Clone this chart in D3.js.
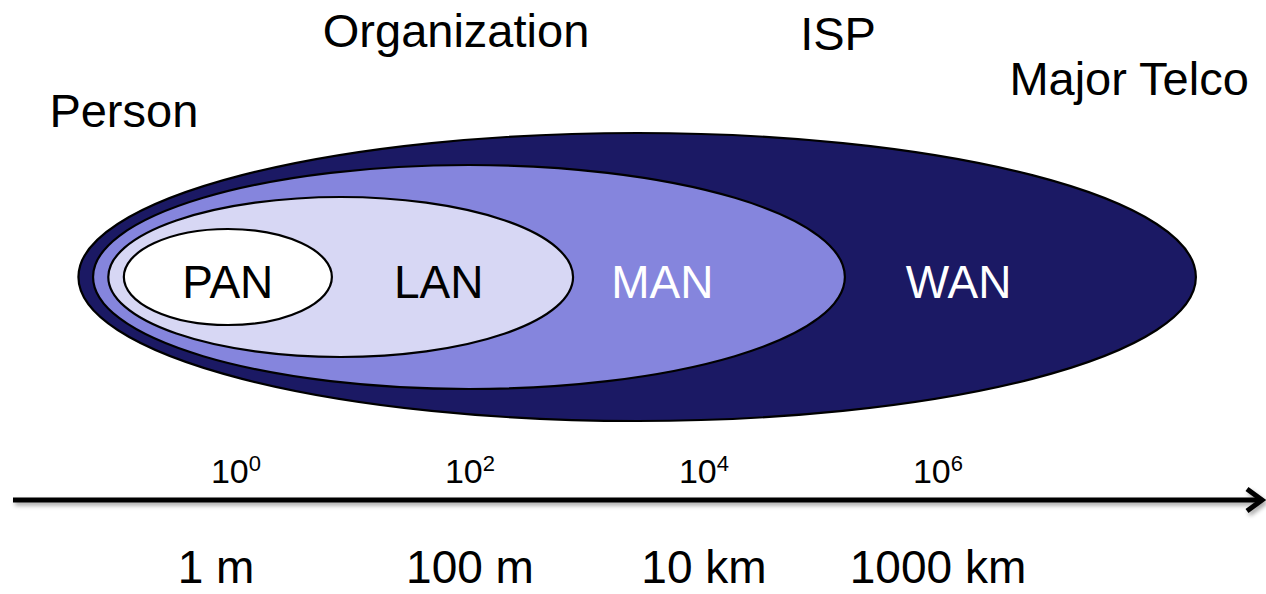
<!DOCTYPE html>
<html>
<head>
<meta charset="utf-8">
<script src="https://cdn.jsdelivr.net/npm/d3@7"></script>
<style>
  html, body { margin: 0; padding: 0; background: #fff; }
  svg { display: block; font-family: "Liberation Sans", Arial, sans-serif; }
</style>
</head>
<body>
<svg id="chart"></svg>
<script>
/// data ///
// networks, inner to outer
const networks = ["PAN", "LAN", "MAN", "WAN"];
const spanMin = [0.11, 0.081, 0.06, 0.045];        // metres, left edge of each ellipse
const spanMax = [6.6, 760, 160000, 160000000];     // metres, right edge
const level = [1, 2, 3, 4];                        // nesting depth -> ellipse height
const labelAt = [0.85, 54, 4400, 1500000];          // metres, where the name sits
const fills = ["#ffffff", "#d7d7f4", "#8585dd", "#1b1964"];
const textFills = ["#000", "#000", "#fff", "#fff"];

// who owns each scale
const owners = ["Person", "Organization", "ISP", "Major Telco"];
const ownerAt = [0.11, 76, 140000, 43000000];

// axis ticks
const tickValues = [1, 100, 10000, 1000000];
const tickExp = ["0", "2", "4", "6"];
const distLabels = ["1 m", "100 m", "10 km", "1000 km"];

/// dimensions ///
const width = 1266, height = 594;
const cy = 277;
const axisY = 500;

const svg = d3.select("#chart").attr("width", width).attr("height", height);

/// scales ///
const x = d3.scaleLog().domain([1, 1e6]).range([236, 938]);
const ry = d3.scaleLinear().domain([1, 4]).range([48, 144]);

// drop shadow for the arrow
const defs = svg.append("defs");
defs.append("filter").attr("id", "shadow")
  .attr("x", "-5%").attr("y", "-200%").attr("width", "110%").attr("height", "500%")
  .append("feDropShadow")
    .attr("dx", 2).attr("dy", 3).attr("stdDeviation", 2)
    .attr("flood-color", "#000").attr("flood-opacity", 0.35);

/// ellipses (draw outer first) ///
const nets = networks.map((n, i) => ({
  name: n, lo: spanMin[i], hi: spanMax[i], lvl: level[i],
  at: labelAt[i], fill: fills[i], text: textFills[i]
}));

svg.append("g")
  .selectAll("ellipse")
  .data(nets.slice().reverse())
  .join("ellipse")
    .attr("cx", d => (x(d.lo) + x(d.hi)) / 2)
    .attr("cy", cy)
    .attr("rx", d => (x(d.hi) - x(d.lo)) / 2)
    .attr("ry", d => ry(d.lvl))
    .attr("fill", d => d.fill)
    .attr("stroke", "#000")
    .attr("stroke-width", 2.2);

svg.append("g")
  .selectAll("text")
  .data(nets)
  .join("text")
    .attr("x", d => x(d.at))
    .attr("y", cy + 21)
    .attr("text-anchor", "middle")
    .attr("font-size", 46)
    .attr("fill", d => d.text)
    .text(d => d.name);

/// owner labels ///
const ownerY = [127, 47, 50, 95];
svg.append("g")
  .selectAll("text")
  .data(owners)
  .join("text")
    .attr("x", (d, i) => x(ownerAt[i]))
    .attr("y", (d, i) => ownerY[i])
    .attr("text-anchor", "middle")
    .attr("font-size", 47)
    .attr("fill", "#000")
    .text(d => d);

/// axis arrow ///
const arrow = svg.append("g").attr("filter", "url(#shadow)");
arrow.append("line")
  .attr("x1", 13).attr("x2", 1260)
  .attr("y1", axisY).attr("y2", axisY)
  .attr("stroke", "#000").attr("stroke-width", 5);
arrow.append("path")
  .attr("d", `M1247,${axisY - 11} L1262,${axisY} L1247,${axisY + 11}`)
  .attr("fill", "none").attr("stroke", "#000")
  .attr("stroke-width", 5).attr("stroke-linejoin", "miter");

// powers of ten above the arrow
const tick = svg.append("g")
  .selectAll("text")
  .data(tickValues)
  .join("text")
    .attr("x", d => x(d))
    .attr("y", 483)
    .attr("text-anchor", "middle")
    .attr("font-size", 34)
    .attr("fill", "#000");
tick.append("tspan").text("10");
tick.append("tspan")
  .attr("font-size", 22)
  .attr("dy", -12)
  .text((d, i) => tickExp[i]);

// distances below
svg.append("g")
  .selectAll("text")
  .data(tickValues)
  .join("text")
    .attr("x", d => x(d))
    .attr("dx", (d, i) => i === 0 ? -20 : 0)
    .attr("y", 583)
    .attr("text-anchor", "middle")
    .attr("font-size", 46)
    .attr("fill", "#000")
    .text((d, i) => distLabels[i]);
</script>
</body>
</html>
